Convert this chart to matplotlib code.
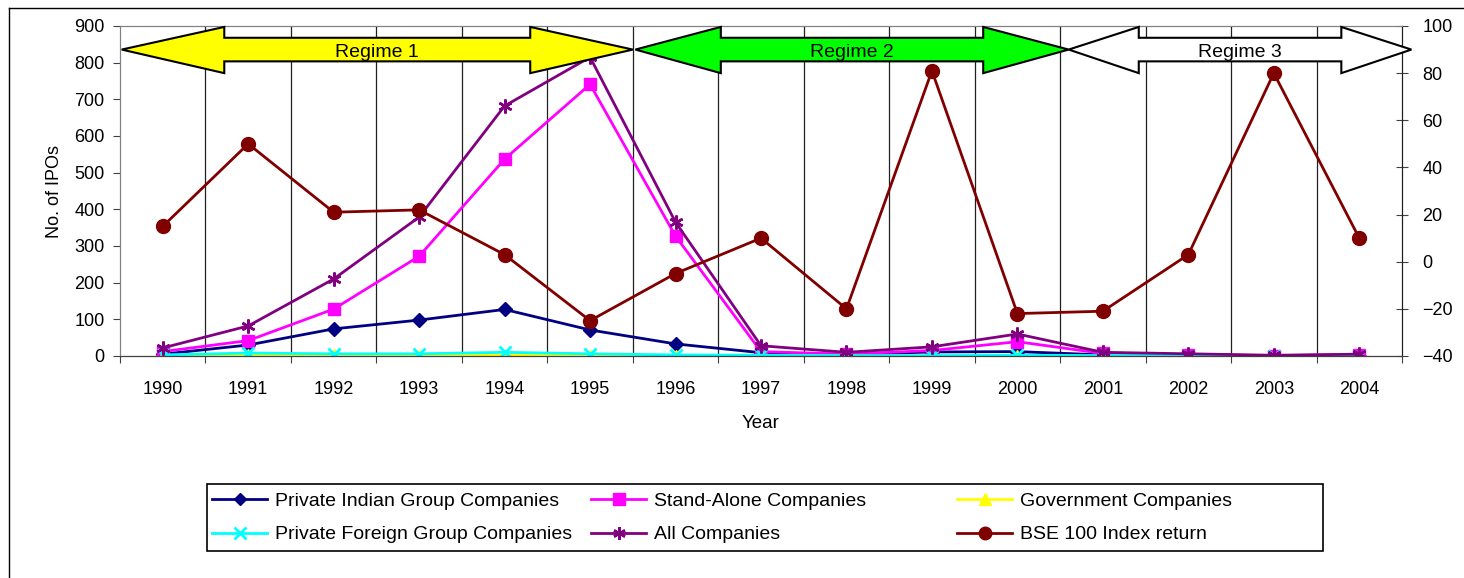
import numpy as np
import matplotlib
matplotlib.use("Agg")
import matplotlib.pyplot as plt
from matplotlib.patches import Polygon
from matplotlib.lines import Line2D

plt.rcParams['font.family'] = ['Liberation Sans', 'DejaVu Sans']
plt.rcParams['font.size'] = 13

# data
years = ['1990', '1991', '1992', '1993', '1994', '1995', '1996', '1997',
         '1998', '1999', '2000', '2001', '2002', '2003', '2004']
private_indian = [5, 30, 74, 98, 127, 71, 33, 9, 4, 11, 12, 3, 1, 0, 1]
stand_alone = [12, 42, 128, 272, 537, 741, 327, 12, 5, 15, 39, 7, 4, 1, 4]
government = [1, 2, 2, 1, 3, 1, 1, 2, 0, 0, 1, 0, 0, 0, 0]
private_foreign = [3, 8, 6, 6, 10, 6, 3, 2, 1, 1, 2, 1, 1, 0, 1]
all_companies = [22, 82, 210, 379, 682, 815, 365, 28, 10, 25, 60, 10, 6, 2, 5]
bse_return = [15, 50, 21, 22, 3, -25, -5, 10, -20, 81, -22, -21, 3, 80, 10]

# regime arrows: name, start, end (in category units), head length, colour
regimes = ['Regime 1', 'Regime 2', 'Regime 3']
regime_start = [-0.48, 5.53, 10.6]
regime_end = [5.5, 10.6, 14.61]
regime_head = [1.2, 1.0, 0.82]
regime_color = ['#FFFF00', '#00FF00', '#FFFFFF']

x = np.arange(len(years))

fig = plt.figure(figsize=(14.64, 5.78), dpi=100)
ax = fig.add_axes([120/1464, 1 - 356/578, (1402-120)/1464, (356-26)/578])
ax2 = ax.twinx()

l1, = ax.plot(x, private_indian, color='#000080', marker='D', ms=7, lw=2)
l2, = ax.plot(x, stand_alone, color='#FF00FF', marker='s', ms=9, lw=2)
l3, = ax.plot(x, government, color='#FFFF00', marker='^', ms=9, lw=2)
l4, = ax.plot(x, private_foreign, color='#00FFFF', marker='x', ms=9, mew=2, lw=2)
l5, = ax.plot(x, all_companies, color='#800080', marker=(6, 2, 0), ms=10, mew=1.8, lw=2)
l6, = ax2.plot(x, bse_return, color='#800000', marker='o', ms=10, lw=2)

ax.set_xlim(-0.5, 14.5)
ax.set_ylim(0, 900)
ax.set_yticks(range(0, 901, 100))
ax2.set_ylim(-40, 100)
ax2.set_yticks(range(-40, 101, 20))

# category axis: ticks between categories, labels at centres
ax.set_xticks(np.arange(-0.5, 15, 1))
ax.set_xticklabels([])
ax.set_xticks(x, minor=True)
ax.set_xticklabels(years, minor=True)
ax.tick_params(axis='x', which='minor', length=0, pad=18)
ax.tick_params(axis='x', which='major', direction='out', length=5, color='#404040')
ax.tick_params(axis='y', direction='out', length=5, color='#404040', pad=6)
ax2.tick_params(axis='y', direction='inout', length=9, color='#404040', pad=10)
for b in np.arange(0.5, 14, 1):
    ax.axvline(b, color='#202020', lw=0.9, zorder=0)

for s in ['left', 'top']:
    ax.spines[s].set_color('#808080')
    ax2.spines[s].set_color('#808080')
ax2.spines['bottom'].set_color('#404040')
ax2.spines['right'].set_color('#202020')

ax.set_ylabel('No. of IPOs', labelpad=8)
ax.set_xlabel('Year', labelpad=12, fontsize=13.5)

# double-headed regime arrows along the top (right-axis units)
for name, x0, x1, hl, c in zip(regimes, regime_start, regime_end, regime_head, regime_color):
    pts = [(x0, 90), (x0 + hl, 99.6), (x0 + hl, 95), (x1 - hl, 95), (x1 - hl, 99.6),
           (x1, 90), (x1 - hl, 80), (x1 - hl, 85), (x0 + hl, 85), (x0 + hl, 80)]
    ax2.add_patch(Polygon(pts, closed=True, facecolor=c, edgecolor='black',
                          lw=1.5, clip_on=False, zorder=5))
    ax2.text((x0 + x1) / 2, 88.6, name, ha='center', va='center', fontsize=14, zorder=6)

ax2.set_ylim(-40, 100)

# legend box with three columns
fig.add_artist(plt.Rectangle((207/1464, 1 - 551/578), (1323-207)/1464, (551-484)/578,
                             transform=fig.transFigure, fill=False, ec='black', lw=1.2))
cols = [([l1, l4], ['Private Indian Group Companies', 'Private Foreign Group Companies'], 212),
        ([l2, l5], ['Stand-Alone Companies', 'All Companies'], 591),
        ([l3, l6], ['Government Companies', 'BSE 100 Index return'], 957)]
for hs, labs, px in cols:
    fig.legend(hs, labs, loc='upper left', bbox_to_anchor=(px/1464, 1 - 492/578),
               frameon=False, borderpad=0, borderaxespad=0, handlelength=2.85,
               handletextpad=0.4, labelspacing=0.83, fontsize=14, markerscale=0.9)

# chart border (left and top only, the rest is cropped)
fig.add_artist(Line2D([9/1464, 9/1464], [0, 1 - 8/578], transform=fig.transFigure, color='black', lw=1))
fig.add_artist(Line2D([9/1464, 1], [1 - 8/578, 1 - 8/578], transform=fig.transFigure, color='black', lw=1))

fig.savefig('out.png', dpi=100)
